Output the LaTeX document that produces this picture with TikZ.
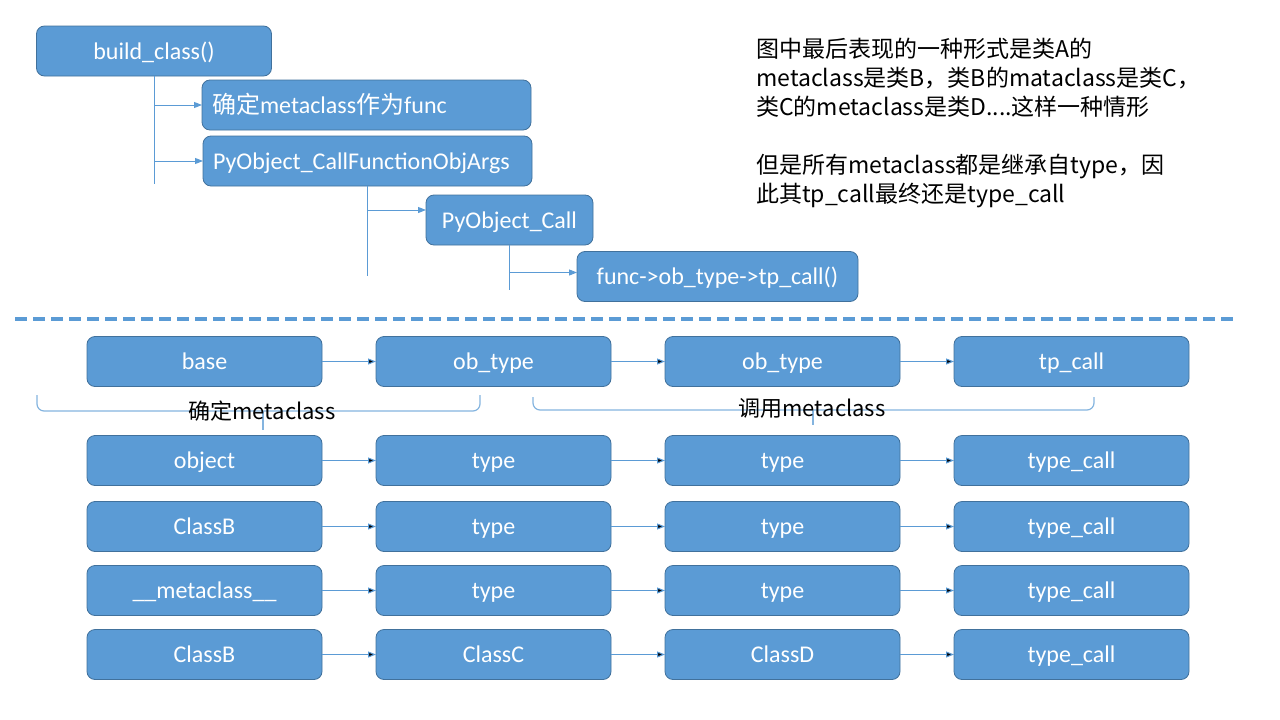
\documentclass[tikz,border=0pt]{standalone}
\usepackage{fontspec}
\setmainfont{Carlito}
\newfontfamily\cjk{Noto Sans CJK SC}
\usepackage{xcolor}
\usetikzlibrary{positioning,arrows.meta}
\definecolor{boxblue}{HTML}{5B9BD5}
\definecolor{boxedge}{HTML}{41719C}

\begin{document}
\begin{tikzpicture}[x=1pt,y=-1pt,node distance=54pt,
  cell/.style={rectangle,rounded corners=8pt,draw=boxedge,fill=boxblue,text=white,line width=0.8pt,
    minimum width=235pt,minimum height=50pt,inner sep=0pt,outer sep=0pt,text height=18.5pt,text depth=2.5pt,
    font=\fontsize{24}{28}\selectfont},
  link/.style={draw=boxblue,line width=1pt,-{Triangle[length=8pt,width=6pt]}},
  trunk/.style={draw=boxblue,line width=1pt},
  brace/.style={draw=boxblue!75,line width=1.2pt,rounded corners=7pt},
  note/.style={font=\cjk\fontsize{22}{26}\selectfont,inner sep=0pt}]
  \useasboundingbox (0,0) rectangle (1280,720);
  % call chain
  \node[cell] (build) at (154,51) {build\_class()};
  \node[cell,minimum width=329pt,text width=309pt,align=left] (decide) at (366.5,105) {{\cjk 确定}metaclass{\cjk 作为}func};
  \node[cell,minimum width=329pt,text width=309pt,align=left] (callargs) at (367.5,161) {PyObject\_CallFunctionObjArgs};
  \node[cell,minimum width=167pt] (call) at (509.5,220) {PyObject\_Call};
  \node[cell,minimum width=281pt] (tpcall) at (717.5,276.5) {func->ob\_type->tp\_call()};
  \coordinate (end1) at (154,184);
  \draw[trunk] (build.south) -- (end1);
  \draw[link] (end1 |- decide.west) -- (decide.west);
  \draw[link] (end1 |- callargs.west) -- (callargs.west);
  \coordinate (end2) at (367.5,276);
  \draw[trunk] (callargs.south) -- (end2);
  \coordinate (in2) at ([yshift=10pt]call.west);
  \draw[link] (end2 |- in2) -- (in2);
  \coordinate (end3) at (509.5,290);
  \draw[trunk] (call.south) -- (end3);
  \coordinate (in3) at ([yshift=4pt]tpcall.west);
  \draw[link] (end3 |- in3) -- (in3);
  \node[note,font=\cjk\fontsize{23}{29}\selectfont,anchor=north west,align=left] (remark) at (756,38)
    {图中最后表现的一种形式是类A的\\metaclass是类B，类B的mataclass是类C，\\类C的metaclass是类D....这样一种情形\\[29pt]但是所有metaclass都是继承自type，因\\此其tp\_call最终还是type\_call};
  \draw[boxblue,line width=4pt,dash pattern=on 12pt off 6pt] (15,319) -- (1235,319);
  % lookup table
  \node[cell] (a1) at (204.5,361.5) {base};
  \node[cell,right=of a1] (a2) {ob\_type};
  \node[cell,right=of a2] (a3) {ob\_type};
  \node[cell,right=of a3] (a4) {tp\_call};
  \node[cell,below=49pt of a1] (b1) {object};
  \node[cell,right=of b1] (b2) {type};
  \node[cell,right=of b2] (b3) {type};
  \node[cell,right=of b3] (b4) {type\_call};
  \node[cell,below=16pt of b1] (c1) {ClassB};
  \node[cell,right=of c1] (c2) {type};
  \node[cell,right=of c2] (c3) {type};
  \node[cell,right=of c3] (c4) {type\_call};
  \node[cell,below=14pt of c1] (d1) {\_\_metaclass\_\_};
  \node[cell,right=of d1] (d2) {type};
  \node[cell,right=of d2] (d3) {type};
  \node[cell,right=of d3] (d4) {type\_call};
  \node[cell,below=14pt of d1] (e1) {ClassB};
  \node[cell,right=of e1] (e2) {ClassC};
  \node[cell,right=of e2] (e3) {ClassD};
  \node[cell,right=of e3] (e4) {type\_call};
  \draw[link] (a1) edge (a2) (a2) edge (a3) (a3) edge (a4);
  \draw[link] (b1) edge (b2) (b2) edge (b3) (b3) edge (b4);
  \draw[link] (c1) edge (c2) (c2) edge (c3) (c3) edge (c4);
  \draw[link] (d1) edge (d2) (d2) edge (d3) (d3) edge (d4);
  \draw[link] (e1) edge (e2) (e2) edge (e3) (e3) edge (e4);
  % braces
  \draw[brace] (37,395) -- (37,411) -- (480,411) -- (480,395);
  \draw[brace] (263,411) -- (263,430);
  \node[note] (pick) at (262,411) {确定metaclass};
  \draw[brace] (533,397) -- (533,410) -- (1094,410) -- (1094,397);
  \draw[brace] (813,410) -- (813,425);
  \node[note] (invoke) at (812,408) {调用metaclass};
\end{tikzpicture}
\end{document}
